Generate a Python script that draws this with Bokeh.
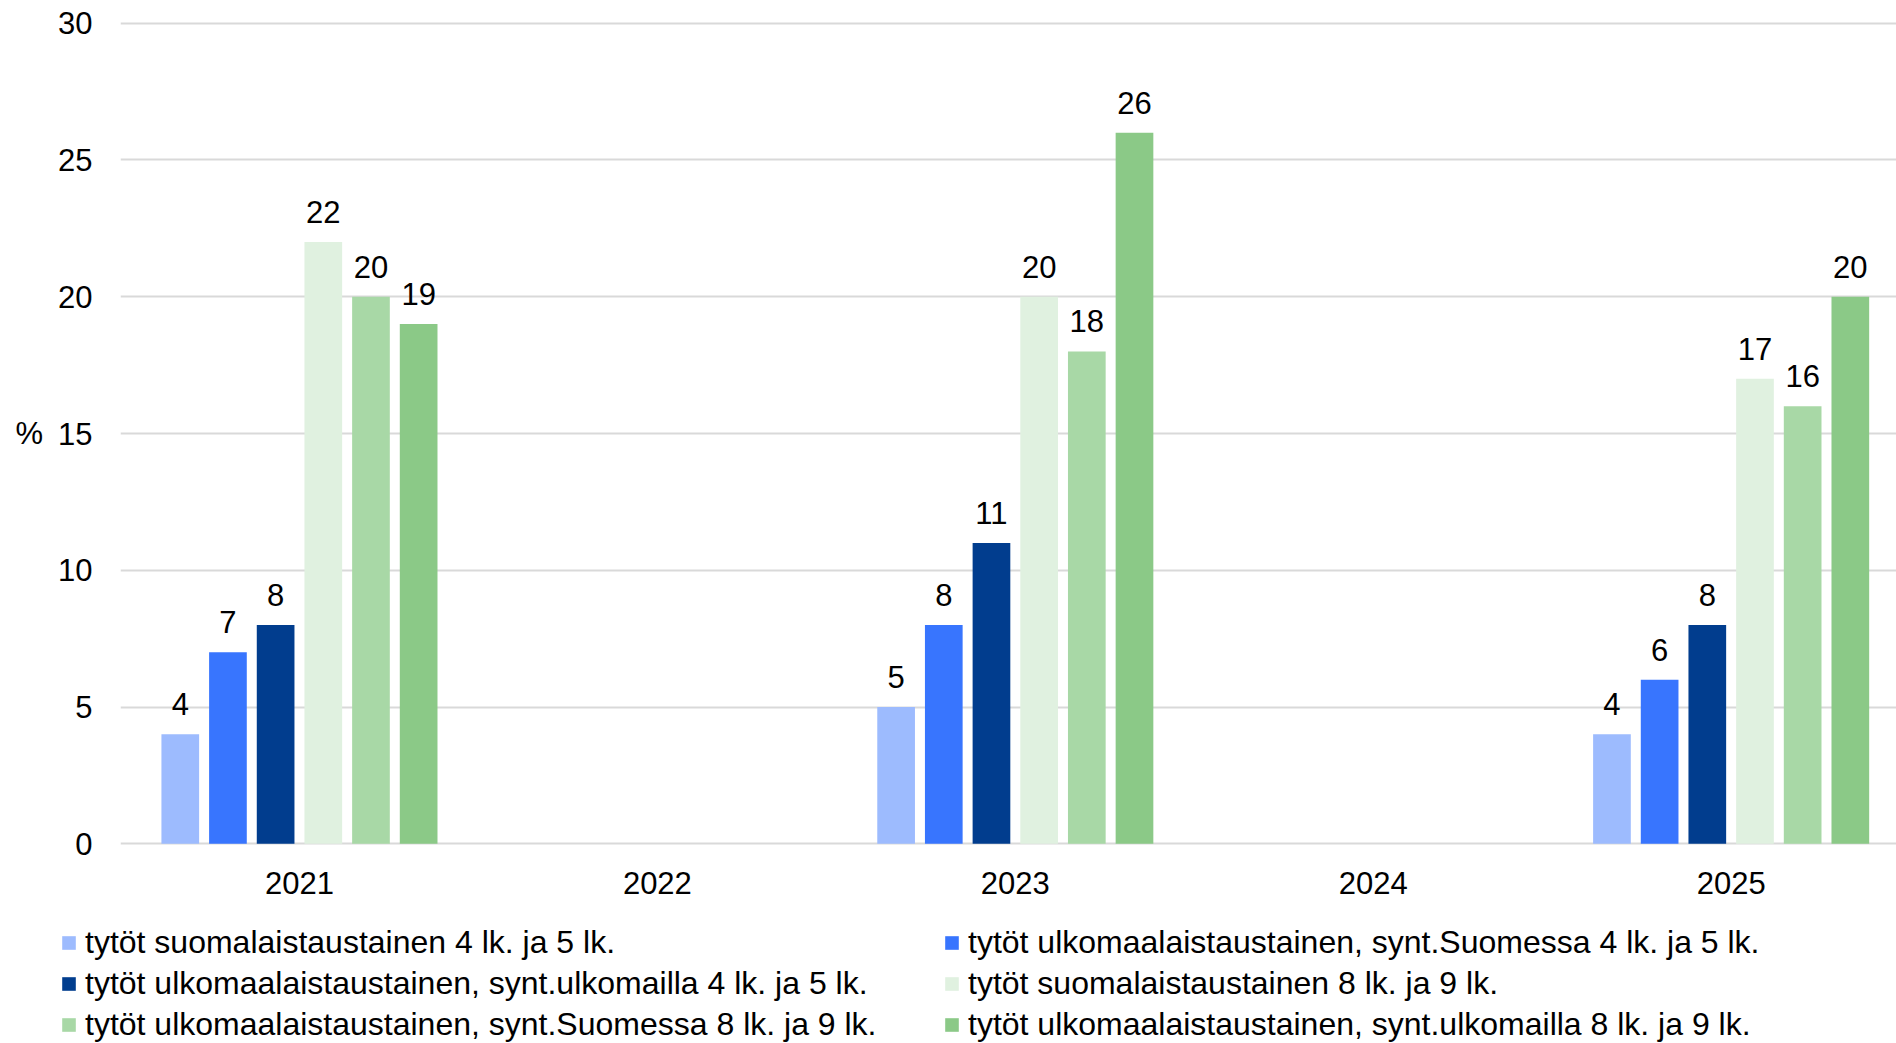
from bokeh.plotting import figure
from bokeh.layouts import column, row
from bokeh.models import ColumnDataSource, Legend, LegendItem, FixedTicker, Range1d
from bokeh.embed import file_html
from bokeh.resources import INLINE
from bokeh.core.properties import value
from bokeh.transform import dodge

# ---- data ----
years = ["2021", "2022", "2023", "2024", "2025"]
series_names = [
    "tytöt suomalaistaustainen 4 lk. ja 5 lk.",
    "tytöt ulkomaalaistaustainen, synt.Suomessa 4 lk. ja 5 lk.",
    "tytöt ulkomaalaistaustainen, synt.ulkomailla 4 lk. ja 5 lk.",
    "tytöt suomalaistaustainen 8 lk. ja 9 lk.",
    "tytöt ulkomaalaistaustainen, synt.Suomessa 8 lk. ja 9 lk.",
    "tytöt ulkomaalaistaustainen, synt.ulkomailla 8 lk. ja 9 lk.",
]
suomi_4_5 = [4, None, 5, None, 4]
ulko_suomessa_4_5 = [7, None, 8, None, 6]
ulko_ulkomailla_4_5 = [8, None, 11, None, 8]
suomi_8_9 = [22, None, 20, None, 17]
ulko_suomessa_8_9 = [20, None, 18, None, 16]
ulko_ulkomailla_8_9 = [19, None, 26, None, 20]
y_ticks = [0, 5, 10, 15, 20, 25, 30]

series_values = [suomi_4_5, ulko_suomessa_4_5, ulko_ulkomailla_4_5,
                 suomi_8_9, ulko_suomessa_8_9, ulko_ulkomailla_8_9]
colors = ["#9DBBFE", "#3875FE", "#013D8E", "#E0F1E0", "#A8D8A6", "#8BC987"]

FONT = "Liberation Sans"
FS = "31px"

W = 1896
H_MAIN = 915
H_LEG = 128

p = figure(width=W, height=H_MAIN, output_backend="svg", toolbar_location=None,
           x_range=Range1d(-0.5, 4.462), y_range=Range1d(-0.1, 30.1),
           min_border_left=120, min_border_right=0, min_border_top=20,
           min_border_bottom=H_MAIN - 846)
p.outline_line_color = None
p.background_fill_color = "white"
p.border_fill_color = "white"

pitch = 0.1332
bw = 0.1053
for i, (name, vals, col) in enumerate(zip(series_names, series_values, colors)):
    xs = [j for j, v in enumerate(vals) if v is not None]
    tops = [vals[j] for j in xs]
    src = ColumnDataSource(dict(x=xs, top=tops, label=[str(t) for t in tops]))
    off = (i - 2.5) * pitch
    p.vbar(x=dodge("x", off), top="top", bottom=0, width=bw, source=src,
           fill_color=col, line_color=None)
    p.text(x=dodge("x", off), y="top", text="label", source=src,
           text_font=value(FONT), text_font_size=FS, text_color="black",
           text_align="center", text_baseline="alphabetic", y_offset=-30)

# axes
p.xaxis.ticker = FixedTicker(ticks=list(range(len(years))))
p.xaxis.major_label_overrides = {i: y for i, y in enumerate(years)}
p.xaxis.axis_line_color = None
p.xaxis.major_tick_line_color = None
p.xaxis.minor_tick_line_color = None
p.xaxis.major_tick_out = 0
p.xaxis.major_label_standoff = 25
p.xaxis.major_label_text_font = FONT
p.xaxis.major_label_text_font_size = FS
p.xaxis.major_label_text_color = "black"

p.yaxis.ticker = FixedTicker(ticks=y_ticks)
p.yaxis.axis_line_color = None
p.yaxis.major_tick_line_color = None
p.yaxis.minor_tick_line_color = None
p.yaxis.major_tick_out = 0
p.yaxis.major_label_standoff = 28
p.yaxis.major_label_text_font = FONT
p.yaxis.major_label_text_font_size = FS
p.yaxis.major_label_text_color = "black"
p.yaxis.axis_label = "%"
p.yaxis.axis_label_orientation = "horizontal"
p.yaxis.axis_label_standoff = 12
p.yaxis.axis_label_text_font = FONT
p.yaxis.axis_label_text_font_size = FS
p.yaxis.axis_label_text_font_style = "normal"
p.yaxis.axis_label_text_color = "black"

p.xgrid.grid_line_color = None
p.ygrid.grid_line_color = "#D9D9D9"
p.ygrid.grid_line_width = 2

# ---- legend strip below the chart ----
lg = figure(width=W, height=H_LEG, output_backend="svg", toolbar_location=None,
            x_range=Range1d(0, 1), y_range=Range1d(0, 1),
            x_axis_location=None, y_axis_location=None,
            min_border_left=0, min_border_right=0, min_border_top=0,
            min_border_bottom=0)
lg.outline_line_color = None
lg.border_fill_color = "white"
lg.background_fill_color = "white"
lg.xgrid.visible = False
lg.ygrid.visible = False
items = []
for name, col in zip(series_names, colors):
    # zero-height bar that only supplies the legend swatch
    r = lg.vbar(x=[0.5], top=[0], bottom=0, width=0.0, fill_color=col, line_color=None)
    items.append(LegendItem(label=name, renderers=[r]))

legend = Legend(items=items, location=(60, 0), orientation="horizontal",
                ncols=2, glyph_width=17, glyph_height=17, label_standoff=8,
                label_width=854, label_height=36, spacing=4, padding=0, margin=0,
                border_line_color=None, background_fill_alpha=0,
                label_text_font=FONT, label_text_font_size="32px",
                label_text_color="black")
lg.add_layout(legend, "center")

layout = column(p, row(lg, spacing=0), spacing=0)
open("out.html", "w").write(file_html(layout, INLINE))
